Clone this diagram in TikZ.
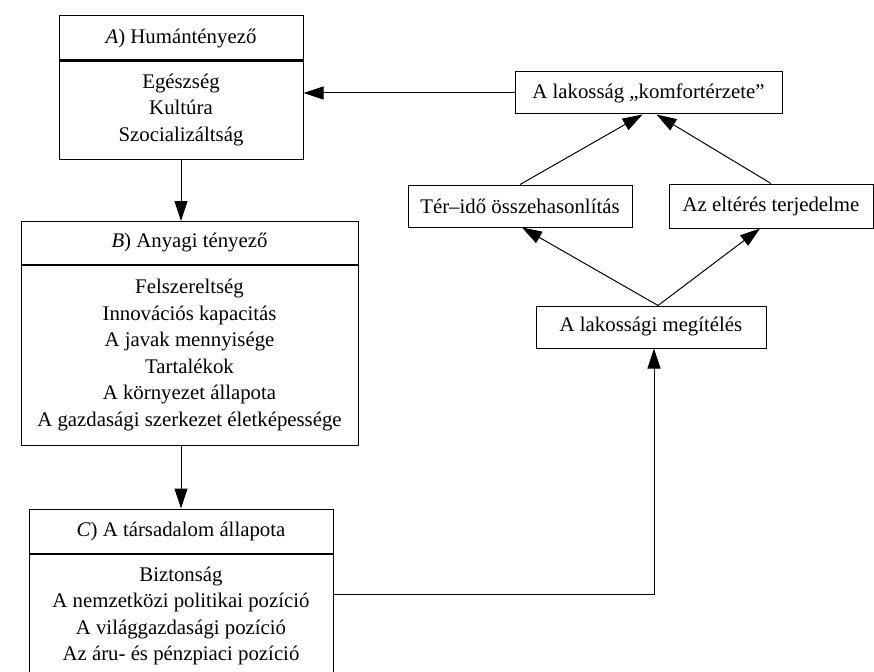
\documentclass[tikz,border=0pt]{standalone}
\usepackage{fontspec}
\setmainfont{Liberation Serif}
\usetikzlibrary{arrows.meta}
\begin{document}
\begin{tikzpicture}[x=1pt,y=-1pt,
  txt/.style={font=\fontsize{20.8}{26.5}\selectfont, align=center},
  box/.style={draw, line width=1pt, inner sep=0pt, txt},
  arr/.style={line width=1pt, -{Triangle[length=20pt,width=13pt]}},
  sep/.style={line width=2pt}]
\useasboundingbox (0,0) rectangle (874,671);
\clip (0,0) rectangle (874,671);
% Box A
\node[box, minimum width=244pt, minimum height=45pt] (Ah) at (181,38.5) {\textit{A}) Humántényező};
\node[box, minimum width=244pt, minimum height=100pt] (Ab) at (181,110) {Egészség\\Kultúra\\Szocializáltság};
\draw[sep] (Ah.south west) -- (Ah.south east);
% Box B
\node[box, minimum width=337pt, minimum height=43pt] (Bh) at (189.5,243) {\textit{B}) Anyagi tényező};
\node[box, minimum width=337pt, minimum height=181pt] (Bb) at (189.5,355) {Felszereltség\\Innovációs kapacitás\\A javak mennyisége\\Tartalékok\\A környezet állapota\\A gazdasági szerkezet életképessége};
\draw[sep] (Bh.south west) -- (Bh.south east);
% Box C
\node[box, minimum width=304pt, minimum height=44pt] (Ch) at (181,531) {\textit{C}) A társadalom állapota};
\node[box, minimum width=304pt, minimum height=126pt] (Cb) at (181,616) {Biztonság\\A nemzetközi politikai pozíció\\A világgazdasági pozíció\\Az áru- és pénzpiaci pozíció};
\draw[sep] (Ch.south west) -- (Ch.south east);
% Right side
\node[box, minimum width=267pt, minimum height=42pt] (K) at (648.5,93) {A lakosság „komfortérzete”};
\node[box, minimum width=224pt, minimum height=42pt] (T) at (520,206) {Tér–idő összehasonlítás};
\node[box, minimum width=204pt, minimum height=44pt] (E) at (771,206) {Az eltérés terjedelme};
\node[box, minimum width=230pt, minimum height=42pt] (M) at (651,327) {A lakossági megítélés};
\coordinate (corner) at (654,594);
% Connectors
\draw[arr] (K.west) -- (K.west -| Ab.east);
\draw[arr] (Ab.south) -- (Ab.south |- Bh.north);
\draw[arr] (Ch.north |- Bb.south) -- (Ch.north);
\draw[arr] (corner -| Cb.east) -- (corner) -- (corner |- M.south);
\draw[arr] ([xshift=7pt]M.north) -- ([xshift=2pt]T.south);
\draw[arr] ([xshift=7pt]M.north) -- ([xshift=-11pt]E.south);
\draw[arr] (T.north) -- ([xshift=-6pt]K.south);
\draw[arr] (E.north) -- ([xshift=8pt]K.south);
\end{tikzpicture}
\end{document}
